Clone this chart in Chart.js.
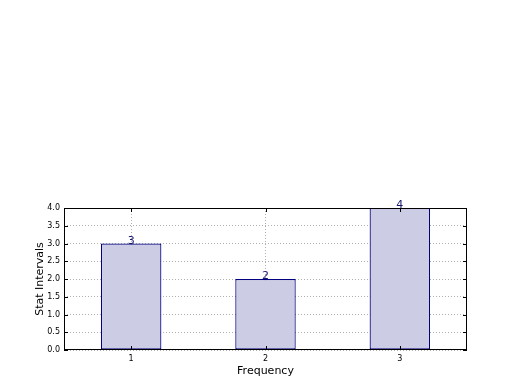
<!DOCTYPE html>
<html>
<head>
<meta charset="utf-8">
<script src="https://cdn.jsdelivr.net/npm/chart.js@4"></script>
<style>
    html, body { margin: 0; padding: 0; background: #ffffff; }
    #wrap { width: 520px; height: 390px; }
</style>
</head>
<body>
<div id="wrap"><canvas id="chart" width="520" height="390"></canvas></div>
<script>
// Chart data
const categories = ['1', '2', '3'];
const intervals = [3, 2, 4];
const yTicks = [0, 0.5, 1, 1.5, 2, 2.5, 3, 3.5, 4];

// Frame round the plot area, with inward ticks like the original
const framePlugin = {
    id: 'frame',
    afterDraw(chart) {
        const { ctx, chartArea: a, scales } = chart;
        ctx.save();
        ctx.strokeStyle = '#000000';
        ctx.lineWidth = 1;
        ctx.strokeRect(a.left + 0.5, a.top + 0.5, a.right - a.left - 1, a.bottom - a.top - 1);
        ctx.beginPath();
        scales.y.ticks.forEach((t, i) => {
            const y = Math.round(scales.y.getPixelForTick(i)) + 0.5;
            ctx.moveTo(a.left, y); ctx.lineTo(a.left + 4, y);
            ctx.moveTo(a.right, y); ctx.lineTo(a.right - 4, y);
        });
        scales.x.ticks.forEach((t, i) => {
            const x = Math.round(scales.x.getPixelForValue(i)) + 0.5;
            ctx.moveTo(x, a.bottom); ctx.lineTo(x, a.bottom - 4);
            ctx.moveTo(x, a.top); ctx.lineTo(x, a.top + 4);
        });
        ctx.stroke();
        ctx.restore();
    }
};

// Value written on top of each bar
const valueLabels = {
    id: 'valueLabels',
    afterDatasetsDraw(chart) {
        const { ctx } = chart;
        const meta = chart.getDatasetMeta(0);
        ctx.save();
        ctx.fillStyle = '#191970';
        ctx.font = '11px "DejaVu Sans"';
        ctx.textAlign = 'center';
        ctx.textBaseline = 'bottom';
        meta.data.forEach((bar, i) => {
            ctx.fillText(String(intervals[i]), bar.x, bar.y + 3);
        });
        ctx.restore();
    }
};

const ctx = document.getElementById('chart').getContext('2d');
new Chart(ctx, {
    type: 'bar',
    data: {
        labels: categories,
        datasets: [{
            data: intervals,
            backgroundColor: 'rgb(204, 204, 228)',
            borderColor: '#000080',
            borderWidth: 1.2,
            borderSkipped: false,
            barPercentage: 0.45,
            categoryPercentage: 1
        }]
    },
    options: {
        responsive: false,
        animation: false,
        layout: { padding: { top: 208, right: 53, left: 34, bottom: 12 } },
        plugins: {
            legend: { display: false },
            tooltip: { enabled: false }
        },
        scales: {
            x: {
                offset: true,
                grid: {
                    offset: false,
                    color: '#b0b0b0',
                    drawTicks: false
                },
                border: { display: false, dash: [1, 2] },
                ticks: {
                    color: '#000000',
                    padding: 4,
                    font: { family: 'DejaVu Sans', size: 8 }
                },
                title: {
                    display: true,
                    text: 'Frequency',
                    color: '#000000',
                    padding: { top: 2, bottom: 0 },
                    font: { family: 'DejaVu Sans', size: 11 }
                },
                afterFit(scale) { scale.height = 28; }
            },
            y: {
                min: 0,
                max: 4,
                afterBuildTicks(scale) {
                    scale.ticks = yTicks.map(v => ({ value: v }));
                },
                grid: {
                    color: '#b0b0b0',
                    drawTicks: false
                },
                border: { display: false, dash: [1, 2] },
                ticks: {
                    color: '#000000',
                    padding: 4,
                    font: { family: 'DejaVu Sans', size: 8 },
                    callback: (v) => Number(v).toFixed(1)
                },
                title: {
                    display: true,
                    text: 'Stat Intervals',
                    color: '#000000',
                    padding: { top: 0, bottom: 2 },
                    font: { family: 'DejaVu Sans', size: 11 }
                },
                afterFit(scale) { scale.width = 30; }
            }
        }
    },
    plugins: [framePlugin, valueLabels]
});
</script>
</body>
</html>
